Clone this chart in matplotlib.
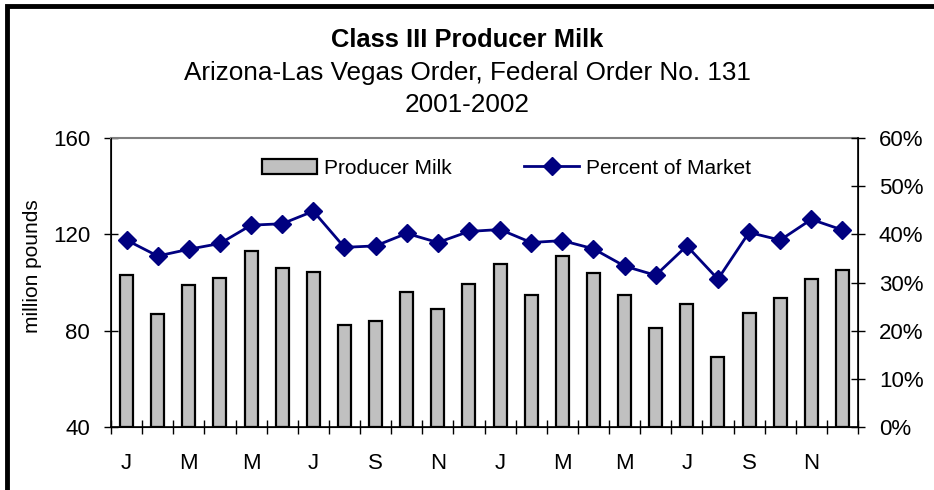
import matplotlib
matplotlib.use("Agg")
import matplotlib.pyplot as plt
from matplotlib.patches import Rectangle
from matplotlib.lines import Line2D
from matplotlib.patches import Patch
import numpy as np

plt.rcParams['font.family'] = ['Liberation Sans', 'DejaVu Sans']

months = ["J", "F", "M", "A", "M", "J", "J", "A", "S", "O", "N", "D"] * 2
producer_milk = [103, 87, 99, 102, 113, 106, 104.5, 82.5, 84, 96, 89, 99.5,
                 107.5, 95, 111, 104, 95, 81, 91, 69, 87.5, 93.5, 101.5, 105]
percent_market = [38.8, 35.5, 36.9, 38.1, 41.9, 42.2, 44.8, 37.3, 37.6, 40.2, 38.3, 40.6,
                  41.0, 38.3, 38.7, 37.0, 33.4, 31.5, 37.6, 30.7, 40.4, 38.8, 43.1, 40.9]

fig = plt.figure(figsize=(9.34, 4.9), dpi=100)
ax = fig.add_axes([111/934, 1-427/490, 747/934, 289/490])
x = np.arange(len(producer_milk))

ax.bar(x, np.array(producer_milk) - 40, bottom=40, width=0.42, color="#C0C0C0",
       edgecolor="black", linewidth=1.6, zorder=2)
ax.set_ylim(40, 160)
ax.set_xlim(-0.5, len(x) - 0.5)
ax.set_yticks([40, 80, 120, 160])
ax.tick_params(axis='y', direction='inout', length=10, width=1, labelsize=16, pad=10)
ax.set_xticks(x[::2])
ax.set_xticklabels(months[::2], fontsize=16)
ax.set_xticks(np.arange(-0.5, len(x), 1.0), minor=True)
ax.tick_params(axis='x', which='major', length=0, pad=19)
ax.tick_params(axis='x', which='minor', direction='inout', length=10, width=1)
ax.spines['top'].set_color('#808080')
ax.spines['top'].set_linewidth(1.5)
ax.spines['left'].set_linewidth(1.2)
ax.spines['bottom'].set_linewidth(1.2)
fig.text(33/934, 1-266.5/490, "million pounds", rotation=90, ha='center', va='center',
         fontsize=15)

ax2 = ax.twinx()
ax2.plot(x, percent_market, color="#000080", linewidth=2, marker='D', markersize=9,
         zorder=3)
ax2.set_ylim(0, 60)
ax2.set_yticks(np.arange(0, 61, 10))
ax2.set_yticklabels([f"{v}%" for v in range(0, 61, 10)])
ax2.tick_params(axis='y', direction='inout', length=10, width=1, labelsize=16, pad=10)
ax2.spines['right'].set_linewidth(1.2)
ax2.spines['top'].set_visible(False)

handles = [Patch(facecolor="#C0C0C0", edgecolor="black", linewidth=1.6),
           Line2D([0], [0], color="#000080", linewidth=2, marker='D', markersize=9)]
ax2.legend(handles, ["Producer Milk", "Percent of Market"], ncol=2, frameon=False,
           loc='center', bbox_to_anchor=(0.5295, 1 - 30/289), fontsize=15,
           columnspacing=3.5, handlelength=2.64, handleheight=0.72, handletextpad=0.34)

fig.text(0.5, 1-40/490, "Class III Producer Milk", ha='center', va='center',
         fontsize=18.4, fontweight='bold')
fig.text(0.5, 1-73/490, "Arizona-Las Vegas Order, Federal Order No. 131", ha='center',
         va='center', fontsize=18.8)
fig.text(0.5, 1-105/490, "2001-2002", ha='center', va='center', fontsize=18.8)

fig.patches.append(Rectangle((7/934, -0.1), 1.0, 1.1 - 6/490, transform=fig.transFigure,
                             fill=False, edgecolor='black', linewidth=3.5))

fig.savefig("out.png", dpi=100)
